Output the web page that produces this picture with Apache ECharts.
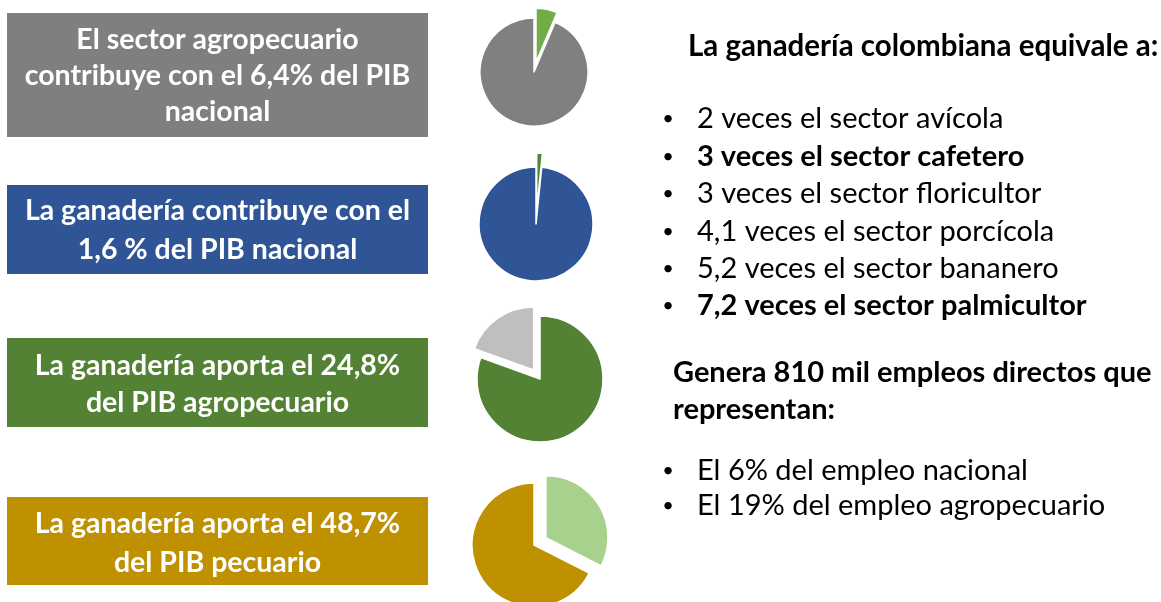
<!DOCTYPE html>
<html>
<head>
<meta charset="utf-8">
<script src="https://cdn.jsdelivr.net/npm/echarts@6/dist/echarts.min.js"></script>
<style>
  html, body { margin: 0; padding: 0; background: #fff; }
  #chart { width: 1161px; height: 602px; }
</style>
</head>
<body>
<div id="chart"></div>
<script>
// slice values (first item starts at 12 o'clock, clockwise)
const pieAgroNacional = [6.4, 93.6]       // agropecuario, resto PIB
const pieGanaderiaNacional = [1.6, 98.4]  // ganadería, resto PIB
const pieGanaderiaAgro = [80.5, 19.5]     // resto agro, ganadería
const pieGanaderiaPecuario = [32.5, 67.5] // resto pecuario, ganadería

const boxTexts = [
  'El sector agropecuario\ncontribuye con el 6,4% del PIB\nnacional',
  'La ganadería contribuye con el\n1,6 % del PIB nacional',
  'La ganadería aporta el 24,8%\ndel PIB agropecuario',
  'La ganadería aporta el 48,7%\ndel PIB pecuario'
]
const boxColors = ['#7f7f7f', '#2f5597', '#548235', '#bf9000']

const equivaleTitle = 'La ganadería colombiana equivale a:'
const equivaleItems = [
  '2 veces el sector avícola',
  '3 veces el sector cafetero',
  '3 veces el sector floricultor',
  '4,1 veces el sector porcícola',
  '5,2 veces el sector bananero',
  '7,2 veces el sector palmicultor'
]
const equivaleBold = [false, true, false, false, false, true]
const empleoTitle = 'Genera 810 mil empleos directos que\nrepresentan:'
const empleoItems = ['El 6% del empleo nacional', 'El 19% del empleo agropecuario']

const FONT = 'Lato, "Open Sans", sans-serif'

// layout
const boxRects = [
  { y: 13, h: 124, mid: 76, lh: 36 },
  { y: 185, h: 89, mid: 230, lh: 39 },
  { y: 338, h: 89, mid: 384, lh: 37 },
  { y: 497, h: 88, mid: 543, lh: 39 }
]

const graphics = []
boxRects.forEach((b, i) => {
  graphics.push({
    type: 'rect',
    shape: { x: 7, y: b.y, width: 421, height: b.h },
    style: { fill: boxColors[i] }
  })
  graphics.push({
    type: 'text',
    x: 217.5,
    y: b.mid,
    style: {
      text: boxTexts[i],
      fill: '#fff',
      font: 'bold 28.5px ' + FONT,
      align: 'center',
      verticalAlign: 'middle',
      lineHeight: b.lh
    }
  })
})

const bullet = (y) => ({
  type: 'text', x: 668, y: y,
  style: { text: '•', fill: '#000', font: '20px ' + FONT, align: 'center', verticalAlign: 'middle' }
})

graphics.push({
  type: 'text',
  x: 688,
  y: 46,
  style: { text: equivaleTitle, fill: '#000', font: 'bold 29.5px ' + FONT, verticalAlign: 'middle' }
})
equivaleItems.forEach((t, i) => {
  const y = 119 + i * 37.4
  graphics.push(bullet(y))
  graphics.push({
    type: 'text', x: 697, y: y,
    style: {
      text: t, fill: '#000',
      font: (equivaleBold[i] ? 'bold ' : '') + '29px ' + FONT,
      verticalAlign: 'middle'
    }
  })
})
graphics.push({
  type: 'text',
  x: 673,
  y: 391,
  style: { text: empleoTitle, fill: '#000', font: 'bold 29px ' + FONT, verticalAlign: 'middle', lineHeight: 37 }
})
empleoItems.forEach((t, i) => {
  const y = 471 + i * 35
  graphics.push(bullet(y))
  graphics.push({
    type: 'text', x: 697, y: y,
    style: { text: t, fill: '#000', font: '29px ' + FONT, verticalAlign: 'middle' }
  })
})

const makePie = (values, colors, selectedIdx, center, radius, offset) => ({
  type: 'pie',
  center: center,
  radius: radius,
  startAngle: 90,
  clockwise: true,
  selectedMode: 'single',
  selectedOffset: offset,
  silent: true,
  label: { show: false },
  labelLine: { show: false },
  itemStyle: { borderColor: '#fff', borderWidth: 1.5 },
  data: values.map((v, i) => ({
    value: v,
    selected: i === selectedIdx,
    itemStyle: { color: colors[i] }
  }))
})

const chart = echarts.init(document.getElementById('chart'))
chart.setOption({
  animation: false,
  backgroundColor: '#fff',
  graphic: graphics,
  series: [
    makePie(pieAgroNacional, ['#70ad47', '#808080'], 0, [534, 72], 54, 10),
    makePie(pieGanaderiaNacional, ['#4e8b35', '#2f5597'], 0, [536, 224], 57, 14),
    makePie(pieGanaderiaAgro, ['#548235', '#bfbfbf'], 1, [540, 379], 63, 11),
    makePie(pieGanaderiaPecuario, ['#a9d18e', '#bf9000'], 0, [534, 545], 62, 14)
  ]
})
</script>
</body>
</html>
